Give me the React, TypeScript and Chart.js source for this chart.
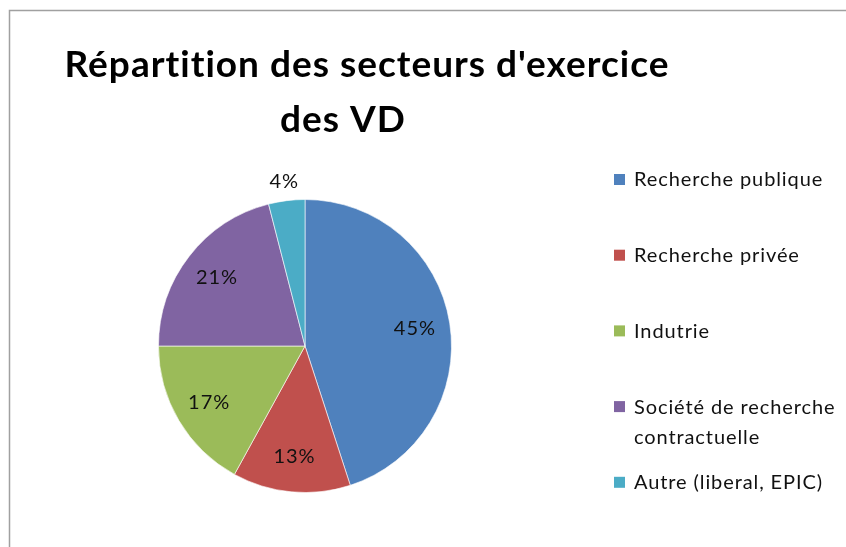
import React, { useEffect, useRef } from "react";
import { Chart, registerables } from "chart.js";

Chart.register(...registerables);

const titleLines = ["Répartition des secteurs d'exercice", "des VD"];
const categories = [
  "Recherche publique",
  "Recherche privée",
  "Indutrie",
  "Société de recherche contractuelle",
  "Autre (liberal, EPIC)",
];
const shares = [45, 13, 17, 21, 4];
const colors = ["#4F81BD", "#C0504D", "#9BBB59", "#8064A2", "#4BACC6"];

const FONT = "Lato, 'Open Sans', sans-serif";

function wrap(ctx: CanvasRenderingContext2D, text: string, maxW: number): string[] {
  const words = text.split(" ");
  const lines: string[] = [];
  let cur = "";
  for (const w of words) {
    const t = cur ? cur + " " + w : w;
    if (ctx.measureText(t).width > maxW && cur) {
      lines.push(cur);
      cur = w;
    } else cur = t;
  }
  if (cur) lines.push(cur);
  return lines;
}

const decorPlugin = {
  id: "decor",
  beforeDraw(chart: any) {
    const ctx = chart.ctx;
    ctx.save();
    ctx.fillStyle = "#ffffff";
    ctx.fillRect(0, 0, chart.width, chart.height);
    ctx.strokeStyle = "#a0a0a0";
    ctx.lineWidth = 1.5;
    ctx.strokeRect(9.5, 10.5, chart.width + 20, chart.height + 20);
    ctx.restore();
  },
  afterDraw(chart: any) {
    const ctx = chart.ctx;
    ctx.save();
    // title
    ctx.fillStyle = "#000000";
    ctx.font = `bold 37px ${FONT}`;
    (ctx as any).letterSpacing = "1px";
    ctx.fontVariantLigatures = "none";
    ctx.textAlign = "center";
    ctx.textBaseline = "alphabetic";
    ctx.fillText(titleLines[0], 367, 77);
    ctx.fillText(titleLines[1], 343, 132);

    // data labels
    const meta = chart.getDatasetMeta(0);
    const total = shares.reduce((a, b) => a + b, 0);
    ctx.font = `20px ${FONT}`;
    (ctx as any).letterSpacing = "1px";
    ctx.textBaseline = "middle";
    meta.data.forEach((arc: any, i: number) => {
      const p = arc.getProps(["x", "y", "startAngle", "endAngle", "outerRadius"], true);
      const mid = (p.startAngle + p.endAngle) / 2;
      const pct = (shares[i] / total) * 100;
      const r = pct < 5 ? p.outerRadius * 1.13 : p.outerRadius * 0.76;
      ctx.fillStyle = "#111111";
      ctx.fillText(`${Math.round(pct)}%`, p.x + Math.cos(mid) * r, p.y + Math.sin(mid) * r);
    });

    // legend
    ctx.textAlign = "left";
    ctx.font = `20px ${FONT}`;
    (ctx as any).letterSpacing = "0.9px";
    categories.forEach((c, i) => {
      const y = 180 + i * 75.7;
      ctx.fillStyle = colors[i];
      ctx.fillRect(614, y - 6, 11, 11);
      ctx.fillStyle = "#111111";
      const lines = wrap(ctx, c, 205);
      lines.forEach((l, j) => ctx.fillText(l, 634, y + j * 30));
    });
    ctx.restore();
  },
};

export default function App() {
  const ref = useRef<HTMLCanvasElement | null>(null);
  useEffect(() => {
    if (!ref.current) return;
    const chart = new Chart(ref.current, {
      type: "pie",
      data: {
        labels: categories,
        datasets: [
          {
            data: shares,
            backgroundColor: colors,
            borderColor: "rgba(255,255,255,0.6)",
            borderWidth: 1,
          },
        ],
      },
      options: {
        responsive: false,
        animation: false,
        layout: { padding: { left: 158, right: 394, top: 199, bottom: 54 } },
        plugins: {
          legend: { display: false },
          title: { display: false },
          tooltip: { enabled: false },
        },
      },
      plugins: [decorPlugin],
    });
    return () => chart.destroy();
  }, []);
  return (
    <div style={{ position: "absolute", left: 0, top: 0, width: 846, height: 547 }}>
      <canvas ref={ref} width={846} height={547} />
    </div>
  );
}
